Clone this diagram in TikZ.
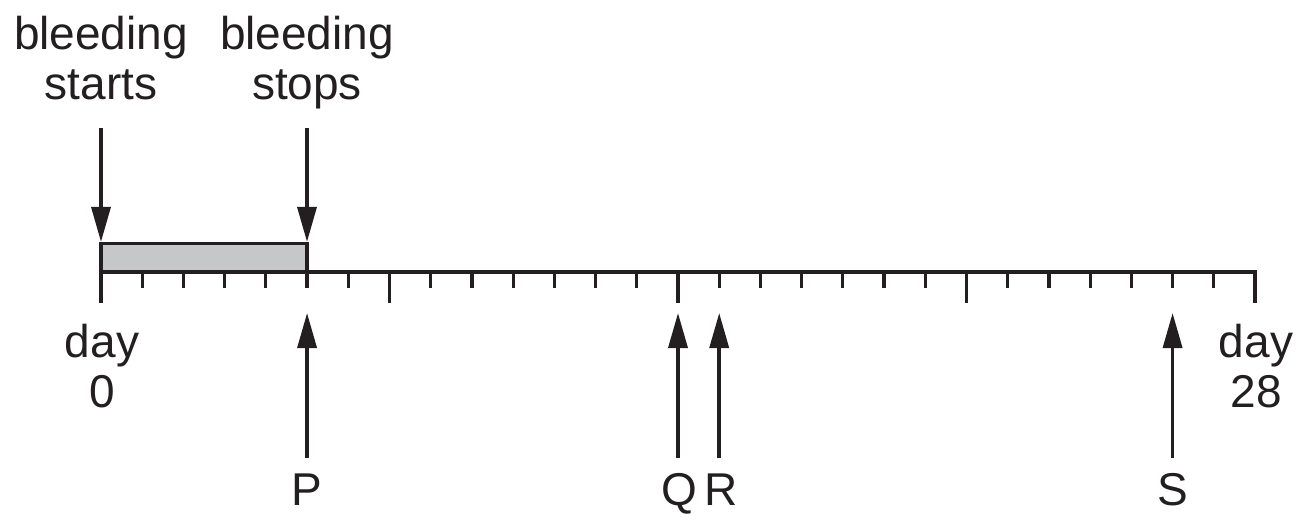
\documentclass[tikz,border=0pt]{standalone}
\usepackage{fontspec}
\setmainfont{Liberation Sans}
\usetikzlibrary{arrows.meta}
\definecolor{ink}{RGB}{35,31,32}
\definecolor{bar}{RGB}{198,199,201}
\begin{document}
\begin{tikzpicture}[x=1pt,y=-1pt,
  lbl/.style={font=\fontsize{46}{50}\selectfont, inner sep=0pt, anchor=base, align=center, text=ink},
  arr/.style={line width=3.5pt, draw=ink, -{Triangle[length=35pt,width=19pt]}},
  axisline/.style={line width=3.2pt, draw=ink, line cap=rect},
  tick/.style={line width=3.2pt, draw=ink},
  bleedbox/.style={draw=ink, fill=bar, line width=3.2pt, inner sep=0pt, outer sep=0pt, minimum width=206pt, minimum height=28.5pt, anchor=south west}]
\useasboundingbox (0,0) rectangle (1306,524);
% day positions
\foreach \i in {0,...,28} {\coordinate (d\i) at ({101+41.2143*\i},272);}
% bleeding bar
\node[bleedbox] (bleed) at (d0) {};
% axis
\draw[axisline] (d0) -- (d28);
% ticks
\foreach \i in {1,2,3,4,5,6,8,9,10,11,12,13,15,16,17,18,19,20,22,23,24,25,26,27}
  {\draw[tick] (d\i) -- ++(0,16);}
\foreach \i in {0,7,14,21,28}
  {\draw[tick] (d\i) -- ++(0,31);}
% top labels and arrows
\node[lbl] (start) at (101,100) {bleeding\\starts};
\node[lbl] (stop) at (307,100) {bleeding\\stops};
\coordinate (startTop) at (101,128);
\coordinate (stopTop) at (307,128);
\draw[arr, shorten >=1.6pt] (startTop) -- (bleed.north west);
\draw[arr, shorten >=1.6pt] (stopTop) -- (bleed.north east);
% day labels
\node[lbl] (day0) at (102,407) {day\\0};
\node[lbl] (day28) at (1256,407) {day\\28};
% bottom labels
\node[lbl] (P) at (307,505) {P};
\node[lbl] (Q) at (679,505) {Q};
\node[lbl] (R) at (721,505) {R};
\node[lbl] (S) at (1173,505) {S};
% bottom arrows
\foreach \n/\d in {P/5,Q/14,R/15,S/26} {
  \coordinate (\n low) at ([yshift=-186pt]d\d);
  \coordinate (\n tip) at ([yshift=-41pt]d\d);
  \draw[arr] (\n low) -- (\n tip);
}
\end{tikzpicture}
\end{document}
